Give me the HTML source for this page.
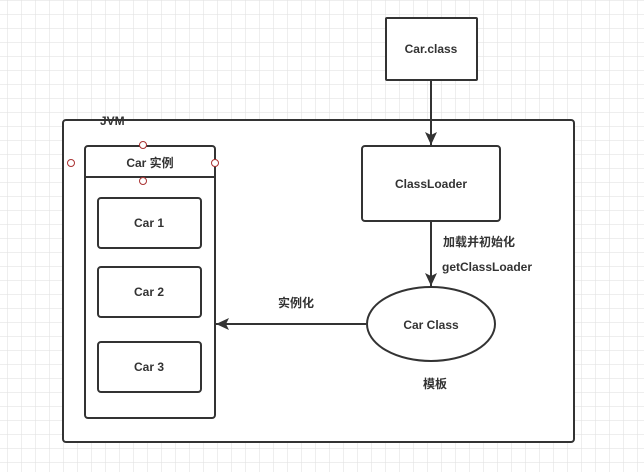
<!DOCTYPE html>
<html><head><meta charset="utf-8"><style>body{margin:0;background:#fff}svg{display:block}text{font-family:"Liberation Sans","Noto Sans CJK SC",sans-serif;font-size:12px;fill:#333;font-weight:bold}</style></head><body>
<svg width="644" height="472" xmlns="http://www.w3.org/2000/svg">
<defs>
<pattern id="g" x="7" y="0" width="14" height="14" patternUnits="userSpaceOnUse"><path d="M0 0V14M0 0H14" stroke="#e3e3e3" stroke-width="1.2" fill="none"/></pattern>
<marker id="a" markerWidth="14" markerHeight="12" refX="13" refY="6" orient="auto" markerUnits="userSpaceOnUse"><path d="M0,0 L13,6 L0,12 L3,6z" fill="#333"/></marker>
</defs>
<rect width="644" height="472" fill="url(#g)"/>
<g stroke="#333" stroke-width="2" fill="#fff">
<rect x="386" y="18" width="91" height="62" rx="1"/>
<rect x="63" y="120" width="511" height="322" rx="3"/>
<rect x="85" y="146" width="130" height="272" rx="3"/>
<line x1="85" y1="177" x2="215" y2="177"/>
<rect x="98" y="198" width="103" height="50" rx="3"/>
<rect x="98" y="267" width="103" height="50" rx="3"/>
<rect x="98" y="342" width="103" height="50" rx="3"/>
<rect x="362" y="146" width="138" height="75" rx="3"/>
<ellipse cx="431" cy="324" rx="64" ry="37"/>
<line x1="431" y1="80" x2="431" y2="145" marker-end="url(#a)"/>
<line x1="431" y1="221" x2="431" y2="286" marker-end="url(#a)"/>
<line x1="366" y1="324" x2="216" y2="324" marker-end="url(#a)"/>
</g>
<g stroke="#a33" stroke-width="1" fill="#fff">
<circle cx="143" cy="145" r="3.5"/><circle cx="143" cy="181" r="3.5"/><circle cx="71" cy="163" r="3.5"/><circle cx="215" cy="163" r="3.5"/>
</g>
<g text-anchor="middle">
<text x="431" y="53">Car.class</text>
<text x="150" y="167">Car 实例</text>
<text x="149" y="227">Car 1</text>
<text x="149" y="296">Car 2</text>
<text x="149" y="371">Car 3</text>
<text x="431" y="188">ClassLoader</text>
<text x="431" y="329">Car Class</text>
<text x="296" y="307">实例化</text>
<text x="435" y="388">模板</text>
</g>
<text x="100" y="125" font-size="13">JVM</text>
<text x="443" y="246">加载并初始化</text>
<text x="442" y="271">getClassLoader</text>
</svg>
</body></html>
